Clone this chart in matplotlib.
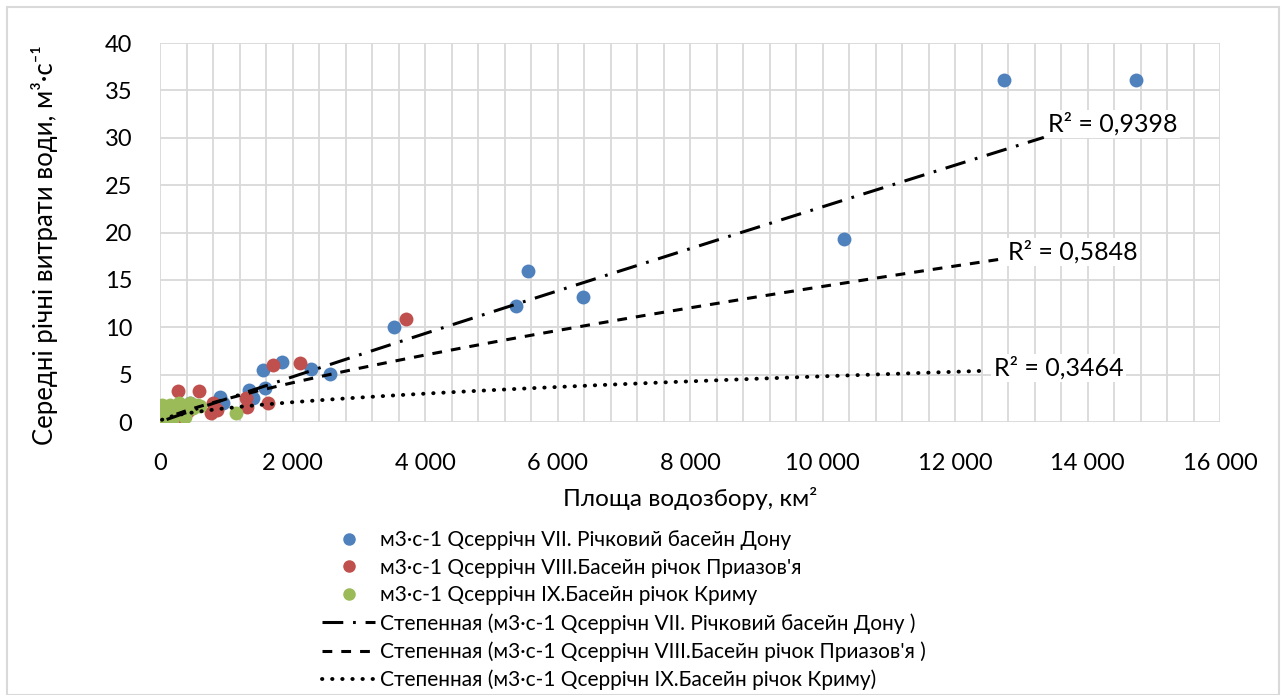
import matplotlib
matplotlib.use("Agg")
import matplotlib.pyplot as plt
import numpy as np
from matplotlib.patches import Rectangle
from matplotlib.lines import Line2D

plt.rcParams['font.family'] = ['Lato', 'DejaVu Sans']

# catchment area, km2 and mean annual discharge, m3/s
don_x = [14728, 12734, 10317, 5559, 6390, 5378, 3535, 1843, 1556, 2281, 2568,
         1344, 1586, 1405, 906, 950, 453, 380]
don_y = [36.1, 36.1, 19.3, 15.9, 13.2, 12.2, 10.0, 6.3, 5.5, 5.6, 5.1,
         3.4, 3.6, 2.5, 2.6, 2.0, 2.0, 1.7]

azov_x = [3716, 1707, 2115, 272, 589, 1631, 1299, 1314, 800, 770, 350, 300, 420, 860]
azov_y = [10.9, 6.0, 6.2, 3.3, 3.3, 2.0, 2.5, 1.6, 2.0, 1.0, 0.5, 0.9, 1.2, 1.3]

crimea_x = [30, 30, 181, 287, 453, 559, 196, 378, 1150, 75, 151, 350, 250, 100, 500, 600]
crimea_y = [1.8, 0.2, 0.2, 2.0, 2.0, 1.8, 0.95, 0.5, 1.0, 0.7, 1.8, 1.0, 1.5, 1.2, 1.5, 1.7]

# power trendlines y = a * x^b, with their x range
don_trend = (0.002994, 0.97, 100, 13340)
azov_trend = (0.0119, 0.77, 250, 12690)
crimea_trend = (0.0401, 0.52, 30, 12430)

r2_labels = ["R² = 0,9398", "R² = 0,5848", "R² = 0,3464"]

labels = ["м3·с-1 Qсеррічн VII. Річковий басейн Дону",
          "м3·с-1 Qсеррічн VIII.Басейн річок Приазов'я",
          "м3·с-1 Qсеррічн IX.Басейн річок Криму",
          "Степенная (м3·с-1 Qсеррічн VII. Річковий басейн Дону )",
          "Степенная (м3·с-1 Qсеррічн VIII.Басейн річок Приазов'я )",
          "Степенная (м3·с-1 Qсеррічн IX.Басейн річок Криму)"]

blue, red, green = '#4F81BD', '#C0504D', '#9BBB59'
grid_c = '#d9d9d9'

W, H = 1281, 695
fig = plt.figure(figsize=(W / 100, H / 100), dpi=100)
ax = fig.add_axes([160 / W, 1 - 422 / H, 1060 / W, 379 / H])

ax.scatter(don_x, don_y, s=100, color=blue, linewidths=0, zorder=3)
ax.scatter(azov_x, azov_y, s=100, color=red, linewidths=0, zorder=3)
ax.scatter(crimea_x, crimea_y, s=100, color=green, linewidths=0, zorder=3)

styles = [(0, (6.8, 3.2, 0.9, 3.2)), (0, (3.2, 2.95)), (0, (0.1, 2.5))]
trend_lines = []
for tr, ls in zip([don_trend, azov_trend, crimea_trend], styles):
    a, b, x0, x1 = tr
    xs = np.linspace(x0, x1, 400)
    lw = 2.8 if ls == styles[2] else 2.2
    ln, = ax.plot(xs, a * xs ** b, color='black', lw=lw, linestyle=ls,
                  dash_capstyle='round' if ls == styles[2] else 'butt', zorder=4)
    trend_lines.append(ln)

# R2 labels
r2_pos = [(13399, 31.45), (12795, 17.94), (12583, 5.7)]
for (tx, ty), t in zip(r2_pos, r2_labels):
    ax.text(tx, ty, t, fontsize=18, ha='left', va='center', zorder=5,
            bbox=dict(facecolor='white', edgecolor='none', pad=2))

ax.set_xlim(0, 16000)
ax.set_ylim(0, 40)
ax.set_xticks(np.arange(0, 16001, 2000))
ax.set_xticks(np.arange(0, 16000, 400), minor=True)
ax.set_yticks(np.arange(0, 41, 5))
ax.set_xticklabels(['0' if v == 0 else f"{v:,}".replace(',', ' ') for v in range(0, 16001, 2000)])
ax.tick_params(axis='both', which='both', length=0, labelsize=17, colors='black')
ax.tick_params(axis='x', pad=22)
ax.tick_params(axis='y', pad=20)
ax.grid(True, which='both', axis='x', color=grid_c, lw=1.3)
ax.grid(True, which='major', axis='y', color=grid_c, lw=1.3)
ax.set_axisbelow(True)
for s in ax.spines.values():
    s.set_visible(False)

fig.text(45 / W, 1 - 245 / H, "Середні річні витрати води, м³·с⁻¹", rotation=90,
         fontsize=18.5, ha='center', va='center')
fig.text(690 / W, 1 - 498 / H, "Площа водозбору, км²", fontsize=17.5,
         ha='center', va='center')

handles = [Line2D([], [], marker='o', ls='none', color=blue, markersize=8),
           Line2D([], [], marker='o', ls='none', color=red, markersize=8),
           Line2D([], [], marker='o', ls='none', color=green, markersize=8)] + \
          [Line2D([], [], color='black', lw=l.get_linewidth(), linestyle=s,
                  dash_capstyle=l.get_dash_capstyle()) for l, s in zip(trend_lines, styles)]
fig.legend(handles, labels, loc='upper left', bbox_to_anchor=(322 / W, 1 - 530 / H),
           frameon=False, fontsize=15, handlelength=2.55, handletextpad=0.25,
           labelspacing=0.37, borderpad=0, borderaxespad=0)

fig.patches.append(Rectangle((7 / W, 0), (1279 - 7) / W, 1 - 7 / H, transform=fig.transFigure,
                             fill=False, edgecolor=grid_c, lw=1.5))

fig.savefig('out.png', dpi=100)
